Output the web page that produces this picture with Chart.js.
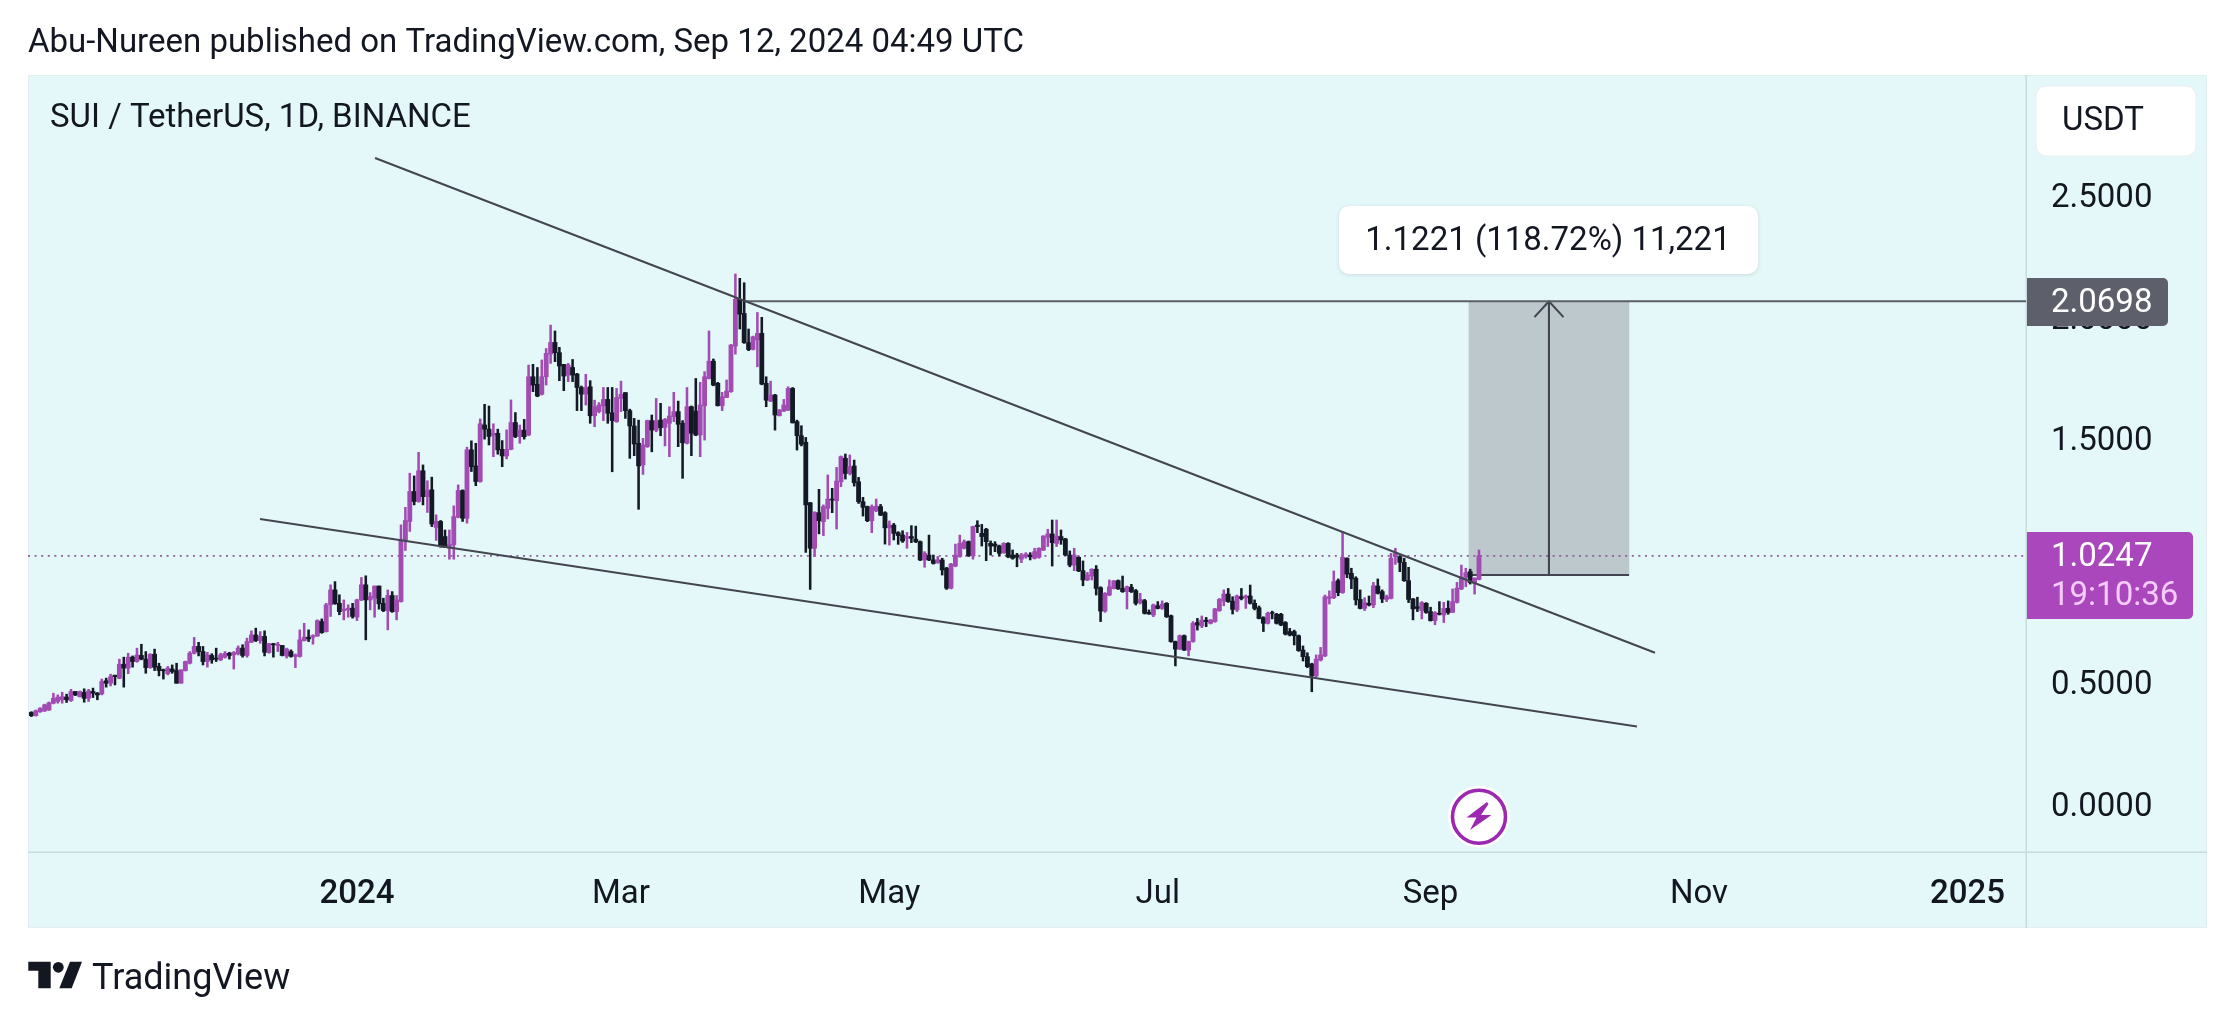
<!DOCTYPE html>
<html><head><meta charset="utf-8">
<script src="https://cdn.jsdelivr.net/npm/chart.js@4"></script>
<style>html,body{margin:0;padding:0;background:#fff}canvas{display:block}</style>
</head><body><canvas id="c" width="2234" height="1024"></canvas>
<script>
const firstDay = -74; // days relative to 2024-01-01
const opens = [
.382,.369,.385,.388,.392,.420,.427,.434,.445,.431,
.468,.447,.464,.440,.468,.461,.458,.512,.502,.535,
.522,.580,.564,.609,.591,.616,.601,.566,.621,.571,
.557,.541,.560,.554,.502,.554,.584,.625,.653,.632,
.591,.616,.605,.598,.609,.625,.618,.623,.646,.616,
.670,.700,.677,.694,.628,.664,.657,.657,.614,.632,
.612,.612,.677,.691,.691,.696,.755,.714,.824,.885,
.830,.800,.803,.810,.773,.844,.906,.844,.851,.901,
.830,.800,.862,.796,.837,1.090,1.166,1.289,1.248,1.374,
1.268,1.296,1.141,1.166,1.104,1.056,1.070,1.183,1.293,1.179,
1.460,1.394,1.330,1.562,1.545,1.521,1.528,1.462,1.435,1.462,1.572,
1.514,1.541,1.521,1.760,1.729,1.688,1.760,1.853,1.901,1.859,
1.811,1.767,1.798,1.771,1.716,1.689,1.719,1.600,1.617,1.641,
1.667,1.612,1.576,1.671,1.695,1.621,1.558,1.487,1.398,1.473,
1.580,1.541,1.582,1.552,1.569,1.596,1.617,1.569,1.487,1.637,
1.619,1.521,1.641,1.753,1.824,1.733,1.641,1.675,1.699,1.886,
2.078,2.020,1.900,1.872,1.911,1.938,1.733,1.660,1.685,1.600,
1.619,1.623,1.712,1.576,1.518,1.491,1.243,1.056,1.202,1.165,
1.220,1.258,1.251,1.329,1.425,1.363,1.394,1.329,1.247,1.227,
1.169,1.210,1.227,1.202,1.140,1.151,1.120,1.110,1.097,1.104,
1.093,1.083,1.008,1.028,1.008,.997,1.008,.974,.892,.983,
1.022,1.056,1.083,1.024,1.151,
1.117,1.134,1.076,1.073,1.065,1.038,1.076,1.028,1.028,1.011,
1.021,1.028,1.015,1.019,1.049,1.101,1.115,1.076,1.104,1.094,
1.028,.987,1.019,.964,.926,.942,.970,.894,.798,.864,
.891,.923,.891,.878,.896,.882,.833,.841,.793,.782,
.820,.809,.830,.779,.673,.642,.697,.638,.673,.751,
.737,.761,.748,.755,.800,.839,.868,.839,.803,.857,
.853,.860,.830,.812,.771,.748,.792,.785,.785,.751,
.714,.714,.697,
.638,.611,.581,.532,.597,.614,.850,.853,.923,.874,
1.015,.953,.933,.846,.809,.830,.823,.901,.878,.846,
.850,1.021,1.021,.998,.923,.848,.816,.800,.830,.796,
.759,.789,.782,.809,.793,.834,.889,.937,.960,.912,.928];
const highs = [
.385,.392,.402,.416,.425,.461,.454,.465,.457,.477,
.468,.470,.479,.477,.482,.464,.519,.523,.539,.535,
.601,.609,.625,.614,.646,.662,.632,.623,.642,.584,
.560,.571,.577,.584,.557,.593,.632,.690,.670,.653,
.629,.623,.646,.625,.632,.629,.632,.655,.660,.687,
.717,.728,.714,.717,.666,.666,.670,.657,.646,.639,
.622,.721,.748,.721,.701,.762,.766,.830,.906,.919,
.865,.844,.824,.830,.847,.936,.943,.874,.901,.901,
.851,.885,.878,.862,1.152,1.224,1.364,1.353,1.450,1.398,
1.333,1.348,1.193,1.170,1.131,1.131,1.230,1.316,1.296,1.471,
1.497,1.487,1.587,1.647,1.640,1.567,1.545,1.498,1.542,1.665,1.613,
1.562,1.585,1.808,1.811,1.798,1.829,1.876,1.972,1.948,1.881,
1.811,1.815,1.831,1.774,1.722,1.770,1.744,1.664,1.654,1.716,
1.716,1.716,1.712,1.742,1.695,1.627,1.589,1.582,1.507,1.582,
1.603,1.671,1.651,1.589,1.637,1.696,1.660,1.580,1.716,1.640,
1.753,1.737,1.781,1.948,1.833,1.737,1.696,1.747,1.893,2.182,
2.164,2.146,1.956,1.927,2.024,2.004,1.760,1.742,1.688,1.626,
1.667,1.719,1.716,1.582,1.559,1.511,1.244,1.206,1.298,1.234,
1.357,1.302,1.388,1.435,1.443,1.439,1.418,1.347,1.265,1.229,
1.234,1.258,1.236,1.206,1.168,1.158,1.124,1.128,1.121,1.149,
1.147,1.086,1.042,1.110,1.028,1.022,1.015,.978,.994,1.073,
1.110,1.090,1.086,1.147,1.169,
1.154,1.138,1.086,1.083,1.069,1.079,1.079,1.049,1.035,1.035,
1.038,1.038,1.056,1.058,1.108,1.134,1.172,1.172,1.131,1.097,
1.045,1.056,1.021,1.004,.957,.972,.985,.898,.874,.926,
.924,.926,.942,.901,.908,.887,.871,.846,.803,.827,
.837,.840,.833,.782,.675,.700,.700,.675,.755,.768,
.778,.772,.764,.809,.850,.885,.891,.857,.864,.891,
.864,.905,.844,.819,.775,.794,.798,.789,.789,.755,
.727,.720,.700,
.655,.627,.584,.618,.649,.864,.881,.963,.930,1.124,
1.017,.974,.939,.885,.853,.860,.916,.930,.885,.864,
1.035,1.056,1.026,1.015,.978,.850,.855,.837,.833,.814,
.796,.837,.834,.840,.889,.916,.987,.974,.970,.935,1.049];
const lows = [
.365,.367,.382,.386,.390,.417,.420,.420,.423,.427,
.451,.445,.424,.427,.443,.434,.454,.486,.491,.495,
.520,.486,.541,.568,.588,.598,.543,.563,.554,.532,
.519,.536,.543,.502,.502,.552,.581,.622,.614,.577,
.568,.584,.591,.595,.605,.601,.560,.618,.609,.609,
.669,.673,.666,.614,.625,.609,.632,.614,.605,.609,
.566,.609,.675,.673,.662,.694,.707,.712,.776,.826,
.783,.762,.773,.769,.759,.841,.680,.803,.773,.806,
.796,.721,.793,.762,.835,1.047,1.125,1.234,1.245,1.234,
1.203,1.145,1.088,1.060,1.059,1.011,1.011,1.181,1.166,1.159,
1.371,1.313,1.327,1.504,1.480,1.432,1.442,1.391,1.423,1.460,1.510,
1.487,1.504,1.518,1.699,1.678,1.685,1.726,1.815,1.822,1.744,
1.703,1.740,1.740,1.621,1.621,1.644,1.569,1.555,1.612,1.580,
1.569,1.370,1.573,1.617,1.589,1.425,1.436,1.216,1.359,1.470,
1.452,1.534,1.518,1.476,1.432,1.576,1.473,1.343,1.484,1.436,
1.518,1.432,1.500,1.751,1.723,1.640,1.621,1.674,1.696,1.853,
1.956,1.897,1.867,1.870,1.801,1.727,1.637,1.658,1.541,1.599,
1.617,1.621,1.570,1.459,1.476,1.039,.887,1.022,1.115,1.108,
1.176,1.202,1.135,1.309,1.340,1.357,1.311,1.240,1.188,1.165,
1.120,1.206,1.190,1.073,1.069,1.090,1.072,1.080,1.056,1.079,
1.079,1.005,.978,1.005,.991,.994,.946,.887,.889,.980,
1.019,1.053,1.022,1.011,1.120,
1.065,1.005,1.028,1.042,1.024,1.035,1.017,1.011,.980,.997,
1.015,1.008,1.012,1.015,1.046,1.063,.983,1.063,1.072,1.026,
.980,.964,.960,.902,.923,.926,.864,.755,.793,.861,
.889,.887,.875,.807,.874,.823,.827,.786,.785,.775,
.807,.805,.772,.670,.573,.640,.636,.614,.670,.720,
.730,.734,.745,.752,.797,.820,.834,.786,.796,.844,
.809,.827,.803,.766,.714,.745,.766,.745,.738,.700,
.696,.659,.633,
.593,.566,.467,.529,.593,.611,.827,.849,.861,.871,
.935,.890,.823,.807,.800,.819,.812,.868,.833,.837,
.848,.990,.960,.920,.833,.762,.796,.766,.789,.757,
.742,.782,.751,.785,.792,.831,.886,.898,.909,.868,.926];
const closes = [
.369,.389,.399,.413,.422,.440,.445,.447,.434,.468,
.454,.468,.440,.470,.461,.454,.509,.502,.529,.529,
.580,.564,.609,.591,.618,.601,.566,.621,.568,.554,
.553,.564,.550,.502,.557,.591,.625,.653,.632,.591,
.618,.598,.601,.618,.625,.616,.628,.646,.616,.673,
.700,.677,.694,.629,.664,.660,.662,.616,.642,.612,
.618,.680,.691,.684,.698,.759,.710,.824,.885,.828,
.796,.806,.810,.776,.844,.906,.844,.858,.901,.828,
.800,.862,.796,.844,1.090,1.170,1.289,1.248,1.374,1.268,
1.293,1.156,1.166,1.063,1.059,1.073,1.186,1.293,1.179,1.460,
1.391,1.330,1.567,1.545,1.515,1.528,1.460,1.435,1.462,1.572,1.515,
1.541,1.514,1.760,1.726,1.681,1.760,1.856,1.901,1.859,1.804,
1.763,1.808,1.767,1.716,1.689,1.716,1.600,1.637,1.644,1.667,
1.610,1.580,1.675,1.688,1.621,1.558,1.484,1.394,1.480,1.580,
1.541,1.580,1.551,1.585,1.599,1.617,1.565,1.489,1.637,1.528,
1.521,1.644,1.760,1.824,1.726,1.641,1.678,1.701,1.890,2.078,
2.017,1.900,1.872,1.924,1.938,1.730,1.664,1.685,1.603,1.623,
1.644,1.712,1.571,1.518,1.483,1.234,1.056,1.203,1.169,1.227,
1.258,1.254,1.332,1.432,1.363,1.391,1.325,1.247,1.224,1.169,
1.227,1.229,1.192,1.140,1.151,1.117,1.108,1.086,1.104,1.097,
1.083,1.008,1.035,1.008,.994,1.008,.967,.892,.991,1.028,
1.076,1.083,1.026,1.145,1.145,
1.104,1.083,1.065,1.065,1.035,1.076,1.021,1.015,1.019,1.028,
1.032,1.021,1.042,1.056,1.106,1.115,1.079,1.106,1.090,1.028,
.987,1.028,.963,.926,.946,.970,.891,.798,.871,.898,
.922,.889,.878,.898,.878,.830,.846,.789,.786,.823,
.809,.827,.775,.673,.642,.697,.638,.673,.748,.741,
.761,.755,.761,.807,.846,.868,.837,.805,.860,.850,
.860,.830,.809,.768,.748,.789,.789,.748,.741,.704,
.700,.697,.636,
.611,.570,.532,.601,.618,.857,.857,.919,.874,1.019,
.950,.930,.844,.809,.833,.823,.902,.871,.848,.857,
1.015,1.035,.998,.923,.846,.807,.809,.833,.792,.759,
.792,.785,.809,.792,.837,.892,.937,.956,.915,.933,1.0247];

const priceTicks = [0, 0.5, 1, 1.5, 2, 2.5];
const timeTickDays = [0, 60, 121, 182, 244, 305, 366];
const timeTickLabels = ['2024', 'Mar', 'May', 'Jul', 'Sep', 'Nov', '2025'];
const boldTimeTicks = ['2024', '2025'];

const upperTrend = [[4.1, 2.658], [295, 0.627]];
const lowerTrend = [[-22.05, 1.176], [290.9, 0.324]];
const lastPrice = 1.0247, targetPrice = 2.0698, rangeLow = 0.9462;
const rangeDay = 270.9, arrowHalfDays = 3.3, arrowHeadPrice = 2.005;
const targetLineStart = 87.7;
const xMin = -74.77, xMax = 379.32, yMin = -0.1909, yMax = 2.9988;

const titleText = 'Abu-Nureen published on TradingView.com, Sep 12, 2024 04:49 UTC';
const symbolText = 'SUI / TetherUS, 1D, BINANCE';
const rangeText = '1.1221 (118.72%) 11,221';
const currencyText = 'USDT';
const targetLabel = '2.0698', lastLabel = '1.0247', countdownLabel = '19:10:36';
const brandText = 'TradingView';

const UP = '#a24cb3', DOWN = '#131a26', LINE = '#434651';
const FONT = 'Roboto, sans-serif', INK = '#131722';
const TEXT_SIZE = 33;
const days = opens.map((_, i) => firstDay + i);
const colorOf = c => { const i = c.dataIndex; return closes[i] >= opens[i] ? UP : DOWN; };
const lineSet = (pts, extra) => Object.assign({
  type: 'line', data: pts.map(p => ({x: p[0], y: p[1]})), borderColor: LINE, borderWidth: 2.1,
  pointRadius: 0, tension: 0, fill: false, order: 1, parsing: {xAxisKey: 'x', yAxisKey: 'y'}
}, extra || {});

function rr(ctx, x, y, w, h, r) { ctx.beginPath(); ctx.roundRect(x, y, w, h, r); }
function poly(ctx, pts) { ctx.beginPath(); pts.forEach((p, i) => i ? ctx.lineTo(p[0], p[1]) : ctx.moveTo(p[0], p[1])); ctx.closePath(); ctx.fill(); }

const decor = {
  id: 'decor',
  beforeDraw(chart) {
    const c = chart.ctx;
    c.save();
    c.fillStyle = '#fff'; c.fillRect(0, 0, 2234, 1024);
    c.fillStyle = '#e5f8f9'; c.fillRect(28, 75, 2179, 853);
    c.strokeStyle = '#e3eeee'; c.lineWidth = 1; c.strokeRect(28.5, 75.5, 2178, 852);
    c.fillStyle = '#c6dcdc'; c.fillRect(28, 851.5, 2179, 1.5); c.fillRect(2025.5, 75, 1.5, 853);
    c.restore();
  },
  afterDraw(chart) {
    const c = chart.ctx;
    c.save();
    c.textBaseline = 'middle'; c.textAlign = 'left';
    c.font = TEXT_SIZE + 'px ' + FONT; c.fillStyle = INK;
    c.fillText(titleText, 28, 44);
    c.fillText(symbolText, 50, 119);
    // currency box
    rr(c, 2036, 86, 160, 70, 10); c.fillStyle = '#fff'; c.fill(); c.strokeStyle = '#e6eeee'; c.lineWidth = 1; c.stroke();
    c.fillStyle = INK; c.fillText(currencyText, 2062, 122);
    // range box
    c.save(); c.shadowColor = 'rgba(0,0,0,0.12)'; c.shadowBlur = 4; c.shadowOffsetY = 1;
    rr(c, 1339, 206, 419, 68, 10); c.fillStyle = '#fff'; c.fill(); c.restore();
    c.fillStyle = INK; c.textAlign = 'center'; c.fillText(rangeText, 1548, 242); c.textAlign = 'left';
    // price labels
    rr(c, 2027, 278, 141, 48, [0, 5, 5, 0]); c.fillStyle = '#5d606b'; c.fill();
    c.fillStyle = '#fff'; c.fillText(targetLabel, 2051, 304);
    rr(c, 2027, 532, 166, 87, [0, 5, 5, 0]); c.fillStyle = '#ab47bc'; c.fill();
    c.fillStyle = '#fff'; c.fillText(lastLabel, 2051, 558);
    c.fillStyle = '#f4cdfb'; c.fillText(countdownLabel, 2051, 597);
    // lightning badge
    c.beginPath(); c.arc(1479, 816.7, 31, 0, Math.PI * 2); c.fillStyle = '#fff'; c.fill();
    c.beginPath(); c.arc(1479, 816.7, 26.5, 0, Math.PI * 2); c.strokeStyle = '#9c27b0'; c.lineWidth = 3.6; c.stroke();
    c.fillStyle = '#9c27b0';
    poly(c, [[1487, 802], [1466.5, 817.5], [1476.5, 817.5], [1470, 830], [1491.5, 815], [1481, 815], [1488.5, 804]]);
    // brand
    c.fillStyle = INK;
    poly(c, [[28.3, 961.7], [50.7, 961.7], [50.7, 988.3], [38.3, 988.3], [38.3, 970.7], [28.3, 970.7]]);
    c.beginPath(); c.arc(58.3, 967.3, 5.4, 0, Math.PI * 2); c.fill();
    poly(c, [[70, 961.7], [82, 961.7], [71.7, 988.3], [59.3, 988.3]]);
    c.font = '36px ' + FONT; c.fillStyle = INK;
    c.fillText(brandText, 92, 980);
    c.restore();
  }
};

new Chart(document.getElementById('c'), {
  type: 'bar',
  data: {
    datasets: [
      { label: 'range', type: 'bar', data: [{x: rangeDay, y: [rangeLow, targetPrice]}], backgroundColor: '#bcc8cc',
        barThickness: 160, grouped: false, order: 10, borderWidth: 0 },
      lineSet([[targetLineStart, targetPrice], [xMax, targetPrice]], {label: 'target', borderColor: '#5b6068', order: 6}),
      lineSet([[rangeDay - 18.2, rangeLow], [rangeDay + 18.2, rangeLow]], {label: 'rangeBase', order: 6, borderWidth: 2.2}),
      lineSet([[rangeDay, rangeLow], [rangeDay, targetPrice]], {label: 'arrow', order: 6}),
      lineSet([[rangeDay - arrowHalfDays, arrowHeadPrice], [rangeDay, targetPrice], [rangeDay + arrowHalfDays, arrowHeadPrice]], {label: 'arrowHead', order: 6}),
      lineSet([[xMin, lastPrice], [xMax, lastPrice]], {label: 'last', borderColor: '#8e5f9a', borderWidth: 1.8, borderDash: [2, 4.6], order: 7}),
      { label: 'wicks', type: 'bar', data: days.map((d, i) => ({x: d, y: [lows[i], highs[i]]})),
        backgroundColor: colorOf, barThickness: 1.9, grouped: false, order: 5, borderWidth: 0 },
      { label: 'bodies', type: 'bar', data: days.map((d, i) => ({x: d, y: [opens[i], closes[i]]})),
        backgroundColor: colorOf, barThickness: 4.2, grouped: false, order: 4, borderWidth: 0 },
      lineSet(upperTrend, {label: 'upper'}),
      lineSet(lowerTrend, {label: 'lower'})
    ]
  },
  options: {
    responsive: false, animation: false, devicePixelRatio: 1,
    layout: {autoPadding: false, padding: {left: 28, top: 75, right: 27, bottom: 96}},
    plugins: {legend: {display: false}, tooltip: {enabled: false}, title: {display: false}},
    scales: {
      x: {
        type: 'linear', min: xMin, max: xMax, offset: false,
        grid: {display: false, drawTicks: false}, border: {display: false},
        afterBuildTicks: s => { s.ticks = timeTickDays.map(v => ({value: v})); },
        afterFit: s => { s.height = 76; },
        ticks: {
          autoSkip: false, maxRotation: 0, padding: 23, color: INK,
          callback: v => timeTickLabels[timeTickDays.indexOf(v)],
          font: c => ({family: FONT, size: TEXT_SIZE, weight: boldTimeTicks.includes(c.tick && c.tick.label) ? '500' : '400'})
        }
      },
      y: {
        type: 'linear', position: 'right', min: yMin, max: yMax,
        grid: {display: false, drawTicks: false}, border: {display: false},
        afterBuildTicks: s => { s.ticks = priceTicks.map(v => ({value: v})); },
        afterFit: s => { s.width = 181; },
        ticks: {autoSkip: false, padding: 25, labelOffset: 2, color: INK, callback: v => v.toFixed(4), font: {family: FONT, size: TEXT_SIZE}}
      }
    }
  },
  plugins: [decor]
});
</script></body></html>
